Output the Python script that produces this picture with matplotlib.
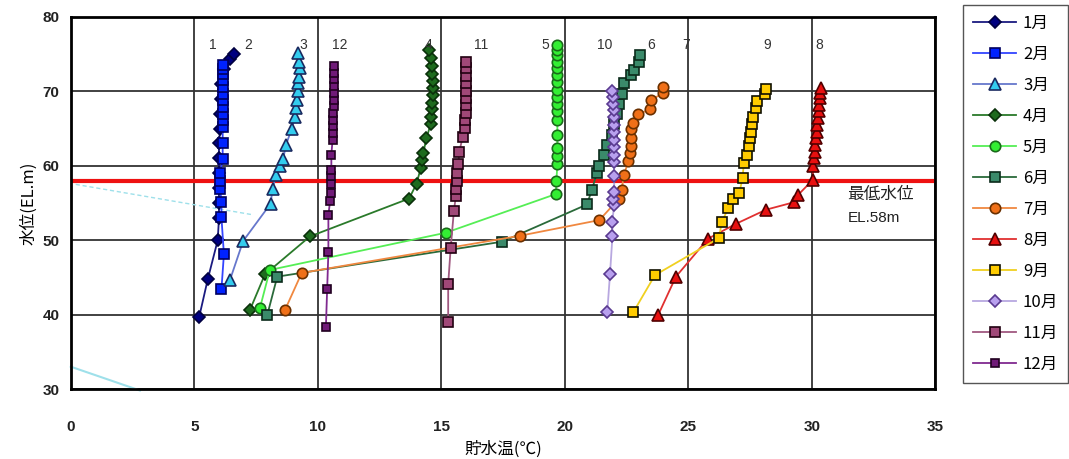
import matplotlib
matplotlib.use('Agg')
from matplotlib import pyplot as plt

plt.rcParams['font.family'] = ['Noto Sans CJK JP', 'DejaVu Sans']

# water temperature (degC) / elevation (EL.m) per month
jan_t = [5.2, 5.55, 5.95, 6.0, 6.0, 6.0, 6.0, 6.0, 6.0, 6.05, 6.05, 6.1, 6.1, 6.2, 6.45, 6.6]
jan_el = [39.7, 44.8, 50.0, 53.0, 55.0, 57.0, 59.0, 61.0, 63.0, 65.0, 67.0, 69.0, 71.0, 73.0, 74.3, 75.0]

feb_t = [6.1, 6.2, 6.1, 6.1, 6.05, 6.05, 6.05, 6.15, 6.15, 6.15, 6.15, 6.15, 6.15, 6.15, 6.15,
         6.15, 6.15, 6.15, 6.15, 6.15]
feb_el = [43.4, 48.1, 53.1, 55.1, 56.9, 57.9, 59.0, 60.9, 63.1, 65.2, 66.1, 67.0, 67.9, 68.8, 69.7,
          70.6, 71.5, 72.4, 73.0, 73.6]

mar_t = [6.45, 6.98, 8.09, 8.17, 8.31, 8.47, 8.6, 8.71, 8.94, 9.08, 9.12, 9.15, 9.18, 9.2, 9.25,
         9.3, 9.25, 9.2]
mar_el = [44.7, 49.9, 54.9, 56.9, 58.8, 60.0, 60.9, 62.8, 64.9, 66.6, 67.8, 68.9, 70.0, 71.1, 72.0,
          73.1, 74.0, 75.1]

apr_t = [7.25, 7.86, 9.68, 13.7, 14.0, 14.17, 14.2, 14.27, 14.4, 14.57, 14.6, 14.62, 14.64, 14.66,
         14.66, 14.66, 14.64, 14.62, 14.58, 14.5]
apr_el = [40.6, 45.4, 50.5, 55.6, 57.6, 59.7, 60.8, 61.7, 63.7, 65.6, 66.6, 67.6, 68.5, 69.5,
          70.4, 71.4, 72.4, 73.4, 74.5, 75.6]

may_t = [7.66, 8.06, 15.18, 19.64, 19.66, 19.7, 19.7, 19.7, 19.7, 19.7, 19.7, 19.7, 19.7, 19.7,
         19.7, 19.7, 19.7, 19.7, 19.7, 19.7, 19.7]
may_el = [40.9, 46.0, 51.0, 56.2, 57.9, 60.2, 61.3, 62.4, 64.1, 66.2, 67.3, 68.3, 69.3, 70.2,
          71.2, 72.2, 73.1, 74.0, 74.9, 75.6, 76.3]

jun_t = [7.96, 8.36, 17.47, 20.9, 21.1, 21.3, 21.4, 21.6, 21.7, 21.9, 22.0, 22.1, 22.2, 22.3,
         22.4, 22.7, 22.8, 23.0, 23.05]
jun_el = [40.0, 45.1, 49.8, 54.8, 56.8, 59.0, 60.0, 61.5, 62.8, 64.2, 65.6, 67.0, 68.3, 69.6,
          71.1, 72.2, 72.9, 74.0, 74.9]

jul_t = [8.67, 9.35, 18.19, 21.4, 22.2, 22.3, 22.4, 22.57, 22.64, 22.67, 22.67, 22.7, 22.75, 22.97,
         23.45, 23.48, 23.99, 23.99]
jul_el = [40.6, 45.6, 50.6, 52.7, 55.6, 56.8, 58.8, 60.6, 61.7, 62.7, 63.7, 64.9, 65.8, 66.9,
          67.6, 68.8, 69.8, 70.6]

aug_t = [23.79, 24.5, 25.8, 26.93, 28.15, 29.28, 29.45, 30.04, 30.05, 30.1, 30.12, 30.15, 30.18,
         30.2, 30.22, 30.25, 30.28, 30.3, 30.32, 30.35, 30.36]
aug_el = [40.0, 45.1, 50.2, 52.2, 54.1, 55.1, 56.1, 58.1, 60.0, 61.1, 61.9, 62.8, 63.7,
          64.6, 65.5, 66.4, 67.3, 68.2, 69.1, 69.8, 70.5]

sep_t = [22.77, 23.65, 26.25, 26.35, 26.62, 26.8, 27.07, 27.2, 27.25, 27.39, 27.47, 27.5, 27.53,
         27.57, 27.61, 27.74, 27.77, 28.1, 28.14]
sep_el = [40.3, 45.3, 50.3, 52.4, 54.3, 55.6, 56.4, 58.4, 60.4, 61.5, 62.6, 63.7, 64.6,
          65.6, 66.6, 67.8, 68.7, 69.6, 70.3]

oct_t = [21.72, 21.83, 21.93, 21.93, 21.99, 21.97, 22.0, 22.0, 22.0, 22.0, 22.0, 22.0, 22.0, 22.0,
         21.98, 21.98, 21.95, 21.95, 21.93]
oct_el = [40.3, 45.4, 50.5, 52.4, 54.7, 55.5, 56.5, 58.6, 60.5, 61.5, 62.5, 63.5, 64.5, 65.5,
          66.5, 67.5, 68.3, 69.2, 70.0]

nov_t = [15.28, 15.28, 15.38, 15.51, 15.59, 15.59, 15.62, 15.65, 15.69, 15.73, 15.87, 15.96, 15.98,
         16.0, 16.0, 16.0, 16.0, 16.0, 16.0, 16.0, 16.0]
nov_el = [39.0, 44.1, 48.9, 53.9, 55.9, 56.9, 57.9, 59.0, 60.2, 61.9, 63.9, 65.1, 66.2,
          67.1, 68.2, 69.1, 70.1, 71.1, 72.1, 73.1, 74.0]

dec_t = [10.33, 10.38, 10.43, 10.43, 10.5, 10.52, 10.55, 10.55, 10.55, 10.55, 10.6, 10.62, 10.62,
         10.63, 10.63, 10.64, 10.64, 10.65, 10.65, 10.65, 10.65, 10.65]
dec_el = [38.4, 43.4, 48.4, 53.4, 55.3, 56.4, 57.5, 58.6, 59.5, 61.5, 63.5, 64.4, 65.3,
          66.2, 67.1, 68.0, 68.9, 69.8, 70.7, 71.6, 72.5, 73.4]

month_names = ['1月', '2月', '3月', '4月', '5月', '6月', '7月', '8月', '9月', '10月', '11月', '12月']
temps = [jan_t, feb_t, mar_t, apr_t, may_t, jun_t, jul_t, aug_t, sep_t, oct_t, nov_t, dec_t]
elevs = [jan_el, feb_el, mar_el, apr_el, may_el, jun_el, jul_el, aug_el, sep_el, oct_el, nov_el, dec_el]

# month number labels above each profile
tag_text = ['1', '2', '3', '12', '4', '11', '5', '10', '6', '7', '9', '8']
tag_x = [5.75, 7.2, 9.4, 10.9, 14.5, 16.6, 19.2, 21.6, 23.5, 24.9, 28.2, 30.3]

min_level = 58

# faint stray lines seen in the picture
stray1_x = [0.2, 7.4]
stray1_y = [57.5, 53.4]
stray2_x = [0.0, 2.8]
stray2_y = [33.0, 29.8]

styles = [
    # marker, face, edge, line, size
    ('D', '#000080', '#000040', '#1a1a80', 6.5),
    ('s', '#0022ff', '#000060', '#3344ff', 6.5),
    ('^', '#33ccee', '#1a2a60', '#6677cc', 8),
    ('D', '#1e6b1e', '#0a300a', '#2a7a2a', 6.5),
    ('o', '#33ee33', '#1a6a1a', '#55ee55', 7.5),
    ('s', '#3a8a6a', '#0a2a1a', '#2a6a3a', 7.5),
    ('o', '#f07018', '#6a3000', '#f08840', 7.5),
    ('^', '#e81010', '#500000', '#e03030', 8),
    ('s', '#ffcc00', '#101000', '#f0d020', 7.5),
    ('D', '#b8a0ee', '#5a3a90', '#b8a8e0', 6.5),
    ('s', '#a04878', '#200010', '#a05880', 7),
    ('s', '#701a78', '#200020', '#802a90', 6),
]

fig = plt.figure(figsize=(10.69, 4.59), dpi=100)
ax = fig.add_axes([0.0662, 0.1525, 0.8087, 0.8105])

ax.plot(stray1_x, stray1_y, color='#9ee0ea', lw=1, ls=(0, (3, 2)), zorder=1)
ax.plot(stray2_x, stray2_y, color='#9ee0ea', lw=1.5, zorder=1, clip_on=False)

ax.axhline(min_level, color='#ee1111', lw=3, zorder=2)

for name, t, el, st in zip(month_names, temps, elevs, styles):
    mk, face, edge, lc, ms = st
    ax.plot(t, el, color=lc, lw=1.3, marker=mk, markersize=ms, markerfacecolor=face,
            markeredgecolor=edge, markeredgewidth=1.2, label=name, zorder=3)

for txt, x in zip(tag_text, tag_x):
    ax.text(x, 76.3, txt, ha='center', va='center', fontsize=10, color='#333333',
            family=['Liberation Sans', 'DejaVu Sans'])

ax.text(31.45, 56.1, '最低水位', ha='left', va='center', fontsize=12, color='#222222')
ax.text(31.45, 53.0, 'EL.58m', ha='left', va='center', fontsize=11, color='#222222',
        family=['Liberation Sans', 'DejaVu Sans'])

ax.set_xlim(0, 35)
ax.set_ylim(30, 80)
ax.set_xticks(range(0, 36, 5))
ax.set_yticks(range(30, 81, 10))
ax.grid(True, color='#333333', lw=1.3)
ax.set_axisbelow(True)
ax.tick_params(length=0, labelsize=11)
ax.tick_params(axis='x', pad=22)
ax.tick_params(axis='y', pad=8)
for lab in ax.get_xticklabels() + ax.get_yticklabels():
    lab.set_family(['Liberation Sans Narrow', 'Liberation Sans', 'DejaVu Sans'])
    lab.set_fontweight('bold')
    lab.set_color('#222222')
for sp in ax.spines.values():
    sp.set_linewidth(2)
    sp.set_color('black')

ax.set_xlabel('貯水温(℃)', fontsize=12, labelpad=5)
ax.set_ylabel('水位(EL.m)', fontsize=12, labelpad=4)

fig.legend(loc='upper left', bbox_to_anchor=(963 / 1069, 1 - 5 / 459), fontsize=12,
           labelspacing=0.84, handlelength=2.6, handletextpad=0.4, borderpad=0.6,
           borderaxespad=0, frameon=True, fancybox=False, edgecolor='#555555', framealpha=1)

fig.savefig('out.png', dpi=100)
